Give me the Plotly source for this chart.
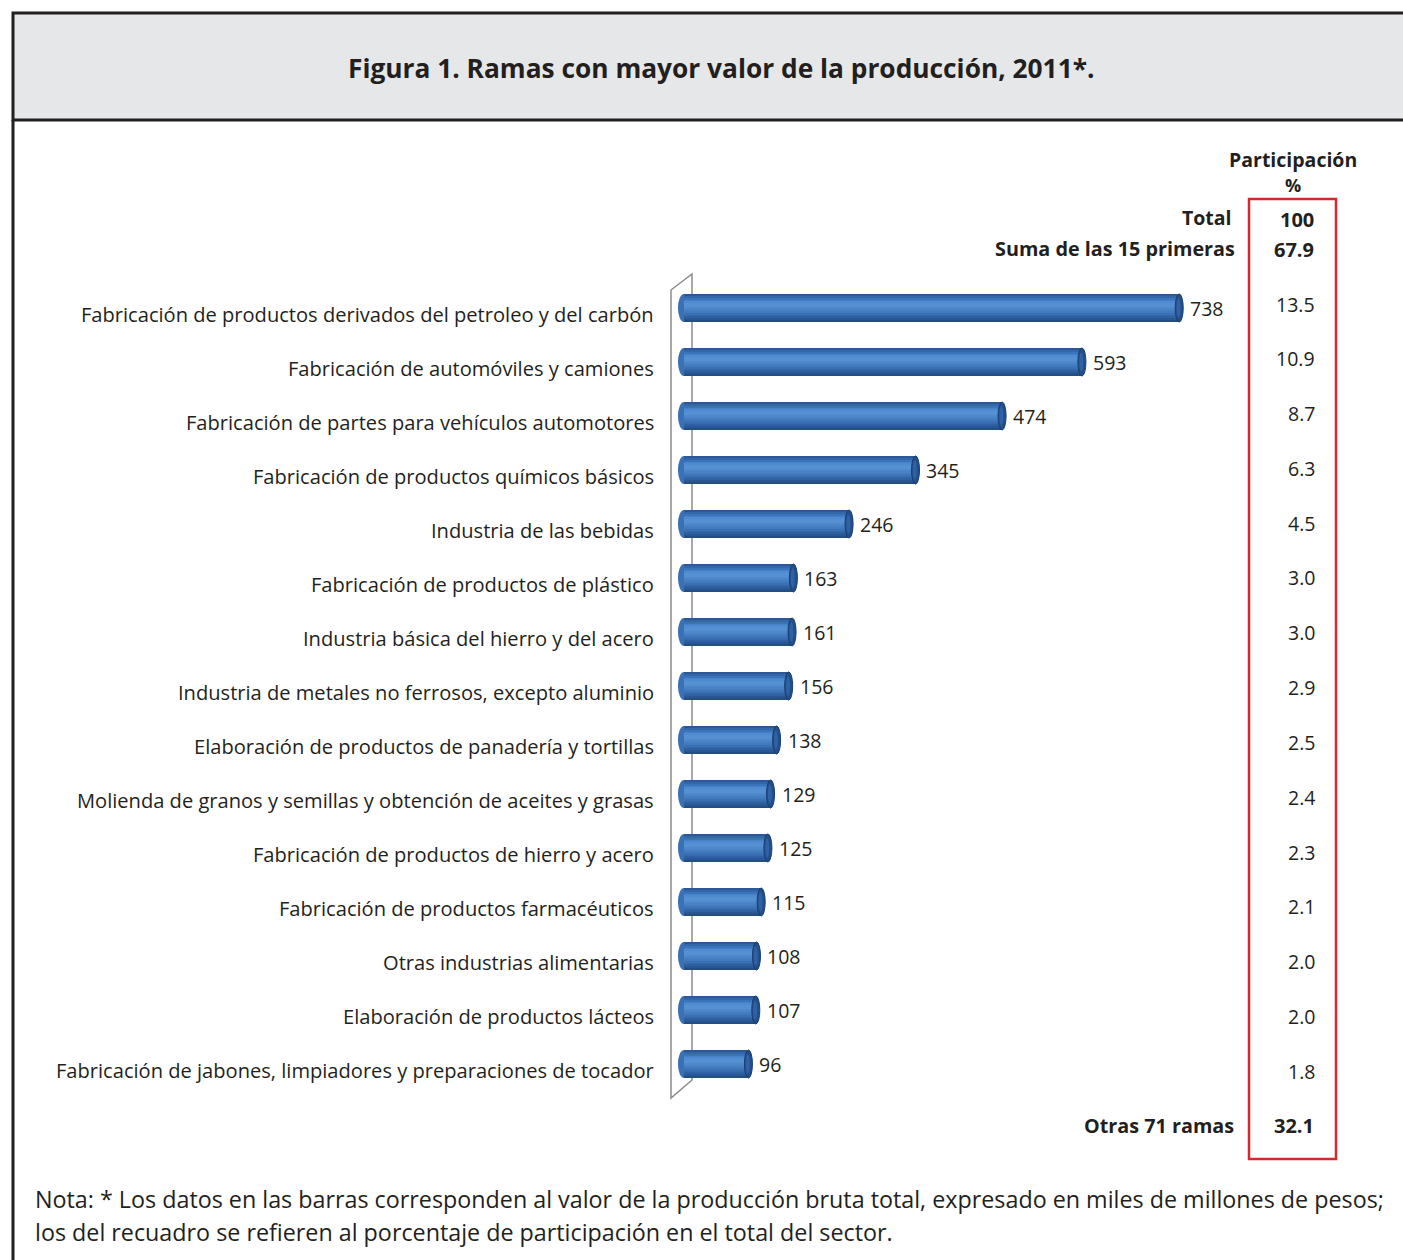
import plotly.graph_objects as go

W, H = 1403, 1260

categories = [
    "Fabricación de productos derivados del petroleo y del carbón",
    "Fabricación de automóviles y camiones",
    "Fabricación de partes para vehículos automotores",
    "Fabricación de productos químicos básicos",
    "Industria de las bebidas",
    "Fabricación de productos de plástico",
    "Industria básica del hierro y del acero",
    "Industria de metales no ferrosos, excepto aluminio",
    "Elaboración de productos de panadería y tortillas",
    "Molienda de granos y semillas y obtención de aceites y grasas",
    "Fabricación de productos de hierro y acero",
    "Fabricación de productos farmacéuticos",
    "Otras industrias alimentarias",
    "Elaboración de productos lácteos",
    "Fabricación de jabones, limpiadores y preparaciones de tocador",
]
valores = [738, 593, 474, 345, 246, 163, 161, 156, 138, 129, 125, 115, 108, 107, 96]
participacion = ["13.5", "10.9", "8.7", "6.3", "4.5", "3.0", "3.0", "2.9", "2.5",
                 "2.4", "2.3", "2.1", "2.0", "2.0", "1.8"]
total_pct = "100"
suma_15_pct = "67.9"
otras_pct = "32.1"

TITLE = "Figura 1. Ramas con mayor valor de la producción, 2011*."
NOTE1 = ("Nota: * Los datos en las barras corresponden al valor de la producción bruta total, "
         "expresado en miles de millones de pesos;")
NOTE2 = "los del recuadro se refieren al porcentaje de participación en el total del sector."

FONT = "Open Sans"
INK = "#231f20"
RED = "#d7282f"


def px(x):
    return x / W


def py(y):
    return 1 - y / H


idx = list(range(len(valores)))

# horizontal scale: zero at 684 px, 0.671 px per unit
X0PX, SCALE = 684, 0.671
XMIN = -20
xdom = [(X0PX + XMIN * SCALE) / W, 1240 / W]
xmax = (1240 - X0PX) / SCALE
ydom = [py(1091), py(281)]

fig = go.Figure()

# cylinder shading: thin horizontal stripes from top edge to bottom edge
BAR_H = 0.52
shade = ["#2b5996", "#3367a9", "#3c74bb", "#4681c7", "#4f8bd0", "#5590d3",
         "#5590d2", "#4f89cc", "#4881c4", "#417abd", "#3b71b4", "#3569aa",
         "#2f609f", "#295792", "#234d84"]
n = len(shade)
step = BAR_H / n
for k, color in enumerate(shade):
    fig.add_trace(go.Bar(
        x=valores, y=idx, orientation="h",
        offset=-BAR_H / 2 + k * step, width=step + 0.008,
        marker=dict(color=color, line=dict(width=0)),
        hoverinfo="skip", showlegend=False,
    ))

shapes = []
# back wall of the chart
shapes.append(dict(
    type="path", xref="paper", yref="paper", layer="below",
    path=f"M {px(671)},{py(290)} L {px(692)},{py(274)} L {px(692)},{py(1080)} "
         f"L {px(671)},{py(1098)} Z",
    line=dict(color="#8c8c8c", width=1.5), fillcolor="rgba(0,0,0,0)",
))

for i, v in zip(idx, valores):
    # left rounded end
    shapes.append(dict(type="circle", xref="x", yref="y",
                       x0=-9, x1=9, y0=i - 0.26, y1=i + 0.26,
                       fillcolor="#3a70b6", line=dict(width=0), layer="below"))
    # right end cap
    shapes.append(dict(type="circle", xref="x", yref="y",
                       x0=v - 6, x1=v + 6, y0=i - 0.26, y1=i + 0.26,
                       fillcolor="#234e8a", line=dict(color="#1b3f73", width=1)))
    shapes.append(dict(type="circle", xref="x", yref="y",
                       x0=v - 4, x1=v + 2, y0=i - 0.18, y1=i + 0.18,
                       fillcolor="#2f62a4", line=dict(width=0)))

# frame and title band
shapes.append(dict(type="rect", xref="paper", yref="paper", layer="below",
                   x0=px(13), x1=px(1420), y0=py(120), y1=py(13),
                   fillcolor="#e6e7e8", line=dict(color=INK, width=3)))
shapes.append(dict(type="line", xref="paper", yref="paper",
                   x0=px(13), x1=px(13), y0=py(120), y1=py(1262),
                   line=dict(color=INK, width=3)))
# participation box
shapes.append(dict(type="rect", xref="paper", yref="paper",
                   x0=px(1249), x1=px(1336), y0=py(1159), y1=py(199),
                   line=dict(color=RED, width=2.5), fillcolor="rgba(0,0,0,0)"))

ann = []


def text(x, y, s, size, bold=False, anchor="center", yanchor="middle"):
    ann.append(dict(
        xref="paper", yref="paper", x=px(x), y=py(y), text=f"<b>{s}</b>" if bold else s,
        showarrow=False, xanchor=anchor, yanchor=yanchor,
        font=dict(family=FONT, size=size, color=INK),
    ))


text(721, 68, TITLE, 26.3, bold=True)

for i, (c, v) in enumerate(zip(categories, valores)):
    ann.append(dict(xref="paper", yref="y", x=px(656), y=i, yshift=-6, text=c,
                    showarrow=False, xanchor="right", yanchor="middle",
                    font=dict(family=FONT, size=20.1, color=INK)))
    ann.append(dict(xref="x", yref="y", x=v, y=i, xshift=9, text=str(v),
                    showarrow=False, xanchor="left", yanchor="middle",
                    font=dict(family=FONT, size=19.5, color=INK)))

# participation column
text(1293, 159, "Participación", 19.5, bold=True)
text(1293, 185, "%", 18, bold=True)
text(1234, 217, "Total", 19.5, bold=True, anchor="right")
text(1237, 249, "Suma de las 15 primeras", 19.8, bold=True, anchor="right")
text(1297, 219, total_pct, 20, bold=True)
text(1294, 250, suma_15_pct, 20, bold=True)
for i, p in enumerate(participacion):
    text(1317, 304 + i * 54.8, p, 19.5, anchor="right")
text(1236, 1125, "Otras 71 ramas", 19.8, bold=True, anchor="right")
text(1294, 1125, otras_pct, 20, bold=True)

text(33, 1199, NOTE1, 23.3, anchor="left")
text(33, 1232, NOTE2, 23.3, anchor="left")

fig.update_layout(
    width=W, height=H, margin=dict(l=0, r=0, t=0, b=0),
    paper_bgcolor="white", plot_bgcolor="rgba(0,0,0,0)",
    barmode="overlay", bargap=0,
    shapes=shapes, annotations=ann,
    xaxis=dict(domain=xdom, range=[XMIN, xmax], visible=False, fixedrange=True),
    yaxis=dict(domain=ydom, range=[14.5, -0.5], visible=False, fixedrange=True),
    font=dict(family=FONT),
)

fig.write_html("out.html")
